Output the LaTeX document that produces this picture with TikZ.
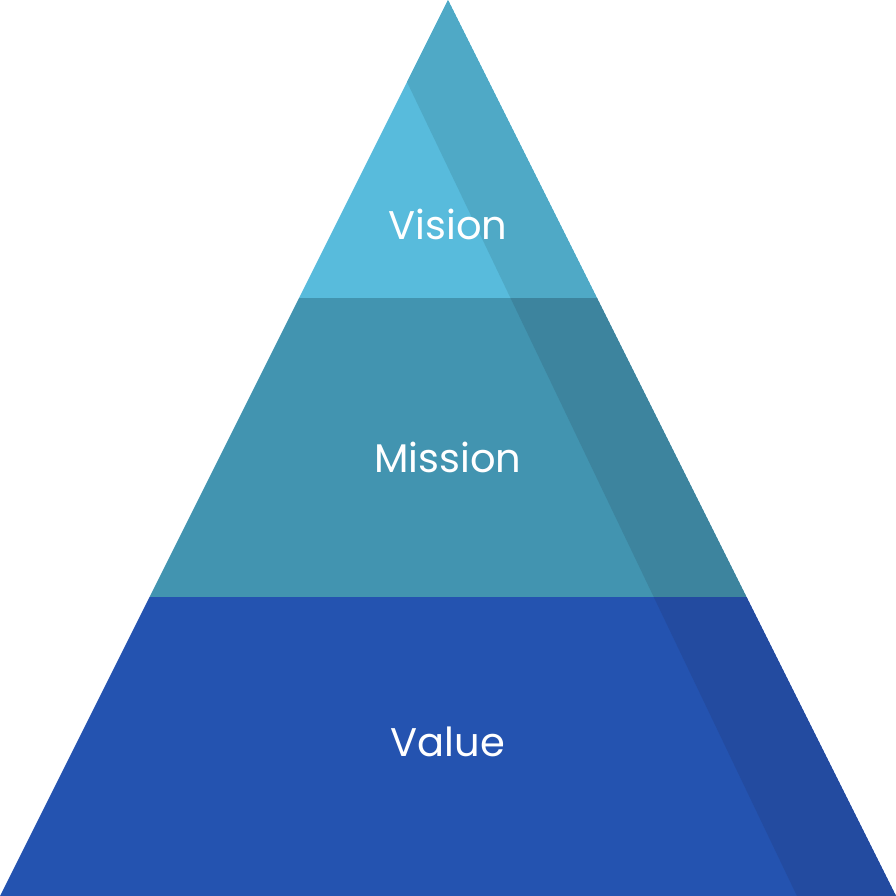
\documentclass[tikz,border=0pt]{standalone}
\usepackage{fontspec}
\setmainfont{Poppins}
\begin{document}
\begin{tikzpicture}[x=1pt,y=-1pt,lab/.style={text=white,font=\fontsize{40}{48}\selectfont}]
\definecolor{c1}{HTML}{58BBDC}\definecolor{c1s}{HTML}{4FA9C6}
\definecolor{c2}{HTML}{4294B0}\definecolor{c2s}{HTML}{3D849E}
\definecolor{c3}{HTML}{2453B0}\definecolor{c3s}{HTML}{234BA0}
\useasboundingbox (0,0) rectangle (896,896);
\fill[c1] (448,0) -- (299,298) -- (597,298) -- cycle;
\fill[c2] (299,298) -- (597,298) -- (746.5,597) -- (149.5,597) -- cycle;
\fill[c3] (149.5,597) -- (746.5,597) -- (896,896) -- (0,896) -- cycle;
\begin{scope}
\clip (448,0) -- (407,82) -- (797,896) -- (896,896) -- cycle;
\fill[c1s] (448,0) -- (299,298) -- (597,298) -- cycle;
\fill[c2s] (299,298) -- (597,298) -- (746.5,597) -- (149.5,597) -- cycle;
\fill[c3s] (149.5,597) -- (746.5,597) -- (896,896) -- (0,896) -- cycle;
\end{scope}
\node[lab] (v) at (448,224) {Vision};
\node[lab] (m) at (448,457) {Mission};
\node[lab] (va) at (448,742) {Value};
\end{tikzpicture}
\end{document}
